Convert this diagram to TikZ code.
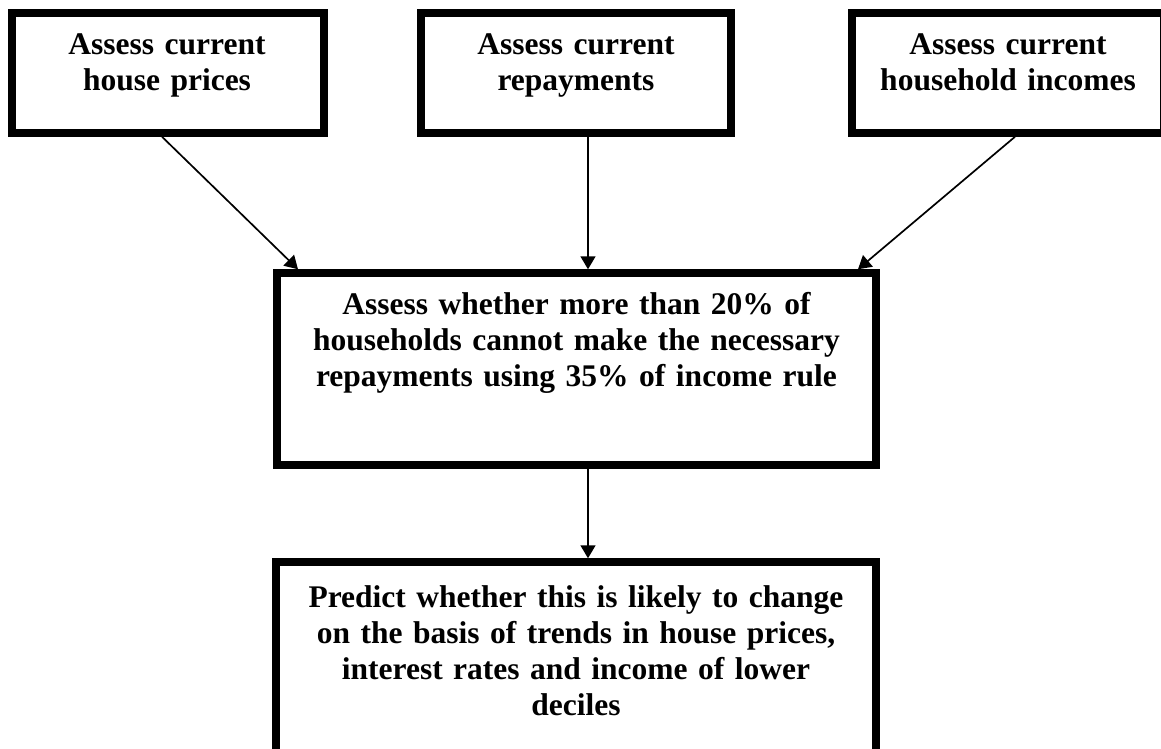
\documentclass[tikz,border=0pt]{standalone}
\usepackage{fontspec}
\setmainfont{Liberation Serif}
\usetikzlibrary{arrows.meta}
\begin{document}
\begin{tikzpicture}[x=1pt,y=-1pt,
  stepbox/.style={draw=black,line width=7.5pt,rectangle,inner sep=0pt,fill=white},
  boxtext/.style={anchor=base,inner sep=0pt,align=center,text width=#1,
    font=\bfseries\fontsize{31.5}{36}\selectfont},
  link/.style={line width=1.7pt,-{Triangle[length=13pt,width=15pt]}}]
\useasboundingbox (0,0) rectangle (1161,749);
\fill[white] (0,0) rectangle (1161,749);

% top row of boxes
\node[stepbox,minimum width=312pt,minimum height=120pt] (b1) at (168,73) {};
\node[stepbox,minimum width=310pt,minimum height=120pt] (b2) at (576,73) {};
\node[stepbox,minimum width=312pt,minimum height=120pt] (b3) at (1008,73) {};
% central test and prediction boxes
\node[stepbox,minimum width=599pt,minimum height=192pt] (mid) at (576.5,369) {};
\node[stepbox,minimum width=600pt,minimum height=200pt] (pred) at (576,662) {};

% labels
\node[boxtext=300pt] (t1) at (167,55) {Assess current\\house prices};
\node[boxtext=300pt] (t2) at (576,55) {Assess current\\repayments};
\node[boxtext=300pt] (t3) at (1008,55) {Assess current\\household incomes};
\node[boxtext=590pt] (tm) at (576.5,314) {Assess whether more than 20\% of\\households cannot make the necessary\\repayments using 35\% of income rule};
\node[boxtext=590pt] (tp) at (576,607) {Predict whether this is likely to change\\on the basis of trends in house prices,\\interest rates and income of lower\\deciles};

% connectors
\draw[link] ([xshift=-6pt]b1.south) -- ([xshift=-278.5pt]mid.north);
\draw[link] ([xshift=12pt]b2.south) -- ([xshift=11.5pt]mid.north);
\draw[link] ([xshift=7pt]b3.south) -- ([xshift=281.5pt]mid.north);
\draw[link] ([xshift=11.5pt]mid.south) -- ([xshift=12pt]pred.north);
\end{tikzpicture}
\end{document}
